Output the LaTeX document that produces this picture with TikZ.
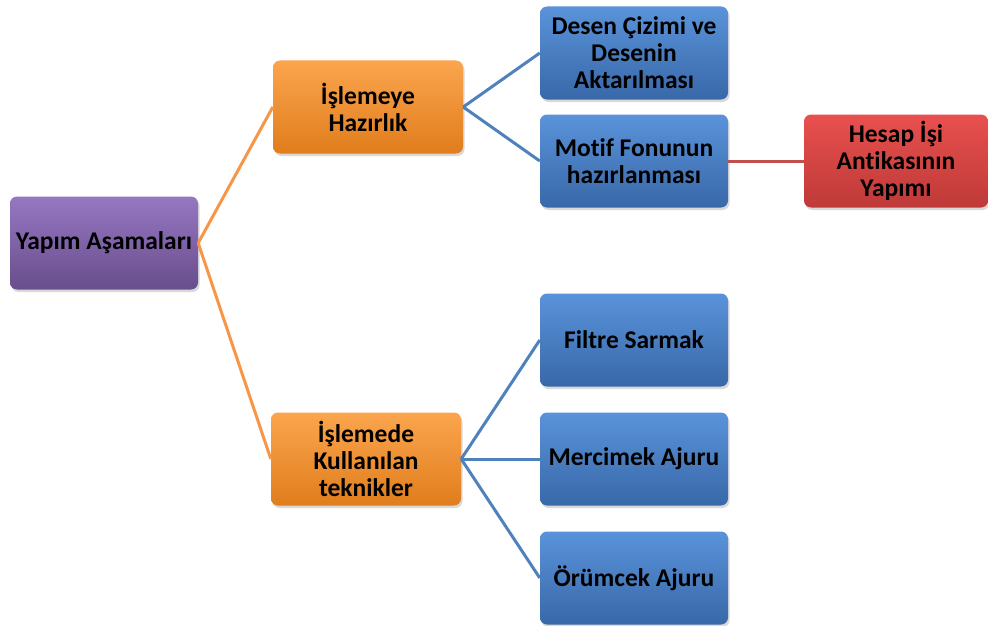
\documentclass[tikz,border=0pt]{standalone}
\usepackage{fontspec}
\setmainfont{Carlito}[Ligatures=NoCommon]
\usetikzlibrary{shadows}
\definecolor{purT}{HTML}{9677C2}
\definecolor{purB}{HTML}{684E8C}
\definecolor{orT}{HTML}{FBA54E}
\definecolor{orB}{HTML}{E07D1C}
\definecolor{blT}{HTML}{5A93DA}
\definecolor{blB}{HTML}{3868A8}
\definecolor{rdT}{HTML}{E8504E}
\definecolor{rdB}{HTML}{BE3A38}
\definecolor{orL}{HTML}{F79646}
\definecolor{blL}{HTML}{4F81BD}
\definecolor{rdL}{HTML}{C0504D}
\tikzset{
  box/.style={rounded corners=7pt, minimum width=188pt, minimum height=93pt,
    align=center, inner sep=2pt, font=\fontsize{25.5}{27}\selectfont\bfseries,
    draw=none,
    drop shadow={shadow xshift=1.5pt, shadow yshift=-2.5pt, opacity=0.3}},
  purbox/.style={box, top color=purT, bottom color=purB},
  orbox/.style={box, top color=orT, bottom color=orB},
  blbox/.style={box, top color=blT, bottom color=blB},
  rdbox/.style={box, top color=rdT, bottom color=rdB},
  conn/.style={line width=3pt},
}
\begin{document}
\begin{tikzpicture}[x=1pt,y=-1pt]
\useasboundingbox (0,0) rectangle (988,626);
\node[purbox] (root) at (104,243) {Yapım Aşamaları};
\node[orbox, minimum width=190pt] (hz) at (368,107) {İşlemeye\\Hazırlık};
\node[orbox, minimum width=190pt] (tk) at (366,459) {İşlemede\\Kullanılan\\teknikler};
\node[blbox] (ds) at (634,53) {Desen Çizimi ve\\Desenin\\Aktarılması};
\node[blbox] (mf) at (634,161) {Motif Fonunun\\hazırlanması};
\node[rdbox, minimum width=184pt] (hs) at (896,161) {Hesap İşi\\Antikasının\\Yapımı};
\node[blbox] (fs) at (634,340) {Filtre Sarmak};
\node[blbox] (mc) at (634,459) {Mercimek Ajuru};
\node[blbox] (or) at (634,578) {Örümcek Ajuru};
\draw[conn, orL] (root.east) -- (hz.west);
\draw[conn, orL] (root.east) -- (tk.west);
\draw[conn, blL] (hz.east) -- (ds.west);
\draw[conn, blL] (hz.east) -- (mf.west);
\draw[conn, rdL] (mf.east) -- (hs.west);
\draw[conn, blL] (tk.east) -- (fs.west);
\draw[conn, blL] (tk.east) -- (mc.west);
\draw[conn, blL] (tk.east) -- (or.west);
\end{tikzpicture}
\end{document}
